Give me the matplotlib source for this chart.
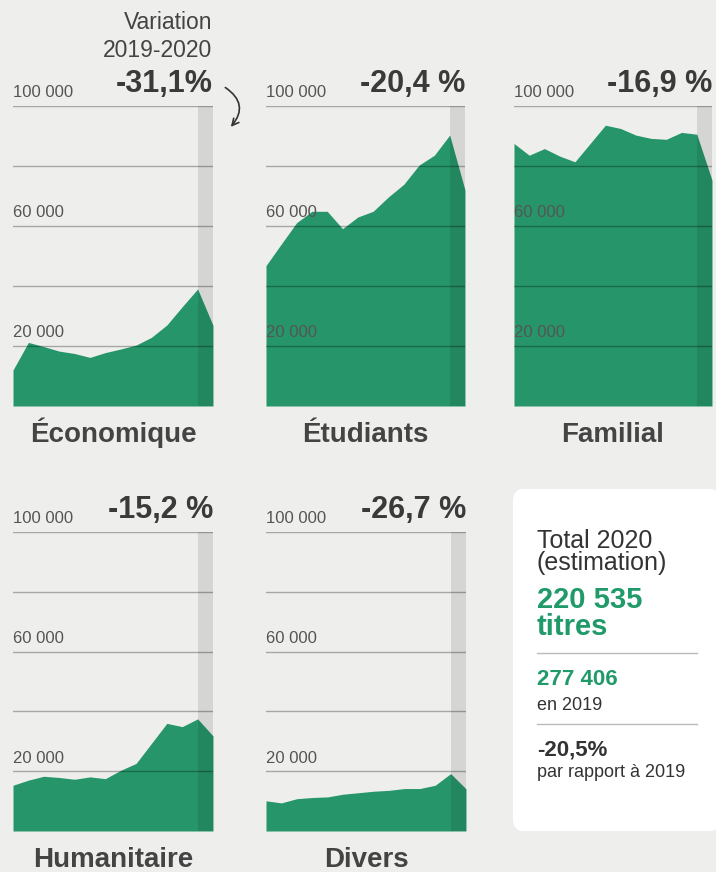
import matplotlib
matplotlib.use("Agg")
import matplotlib.pyplot as plt
from matplotlib.patches import FancyArrowPatch, FancyBboxPatch

# first residence permits by motive, 2007-2020
years = list(range(2007, 2021))
economique = [12000, 21200, 19800, 18300, 17500, 16200, 17800, 19000, 20300, 22900, 27000, 33100, 39000, 26900]
etudiants = [46800, 54000, 61100, 64900, 64900, 59100, 63000, 64900, 69700, 73900, 80300, 83600, 90300, 72000]
familial = [87500, 83600, 85800, 83300, 81400, 87500, 93600, 92500, 90300, 89200, 88900, 91200, 90600, 75300]
humanitaire = [15300, 17000, 18300, 17900, 17300, 18100, 17500, 20300, 22600, 29300, 36000, 34900, 37500, 31800]
divers = [10100, 9400, 10800, 11200, 11400, 12300, 12800, 13300, 13600, 14200, 14200, 15300, 19200, 14100]

names = ["Économique", "Étudiants", "Familial", "Humanitaire", "Divers"]
series = [economique, etudiants, familial, humanitaire, divers]
variations = ["-31,1%", "-20,4 %", "-16,9 %", "-15,2 %", "-26,7 %"]
grid_values = [20000, 40000, 60000, 80000, 100000]
tick_labels = {20000: "20 000", 60000: "60 000", 100000: "100 000"}

W, H = 716, 872
BG = "#eeeeec"
GREEN = "#26966a"
DARK = "#3a3a3a"

plt.rcParams['font.family'] = ['Liberation Sans', 'DejaVu Sans']

fig = plt.figure(figsize=(W / 100, H / 100), dpi=100)
fig.patch.set_facecolor(BG)

def fx(x):
    return x / W

def fy(y):
    return 1 - y / H

# panel boxes in pixels: left, right, top(100000), bottom(0)
boxes = [(13, 213, 106, 406), (266, 465, 106, 406), (514, 712, 106, 406),
         (13, 213, 532, 831), (266, 466, 532, 831)]

for (l, r, t, b), name, vals, var in zip(boxes, names, series, variations):
    ax = fig.add_axes([fx(l), fy(b), (r - l) / W, (b - t) / H])
    ax.set_facecolor(BG)
    ax.patch.set_alpha(0)
    ax.fill_between(years, vals, color=GREEN, lw=0, zorder=2)
    ax.axvspan(2019, 2020, color="black", alpha=0.1, lw=0, zorder=3)
    for g in grid_values:
        ax.axhline(g, color="black", alpha=0.3, lw=1, zorder=4)
    for v, lab in tick_labels.items():
        ax.annotate(lab, (2007, v), xytext=(0, 4), textcoords="offset points",
                    fontsize=12, color="#555555", va="bottom", ha="left", zorder=5)
    ax.set_xlim(2007, 2020)
    ax.set_ylim(0, 100000)
    ax.axis("off")

    fig.text(fx(r), fy(t - 14), var, ha="right", va="baseline", fontsize=22,
             fontweight="bold", color=DARK)
    fig.text(fx((l + r) / 2), fy(b + 36), name, ha="center", va="baseline",
             fontsize=20, fontweight="bold", color="#444444")

# variation header on first panel
fig.text(fx(212), fy(29), "Variation", ha="right", va="baseline", fontsize=16.5, color="#444444")
fig.text(fx(212), fy(57), "2019-2020", ha="right", va="baseline", fontsize=16.5, color="#444444")
arrow = FancyArrowPatch((fx(223), fy(86)), (fx(229), fy(129)), transform=fig.transFigure,
                        connectionstyle="arc3,rad=-0.6", arrowstyle="->", mutation_scale=12,
                        color="#333333", lw=1.2)
fig.add_artist(arrow)

# total box
box = FancyBboxPatch((fx(513), fy(831)), fx(720) - fx(513), fy(489) - fy(831),
                     boxstyle="round,pad=0,rounding_size=0.014", transform=fig.transFigure,
                     facecolor="white", edgecolor="none")
fig.add_artist(box)

x0 = fx(537)
fig.text(x0, fy(548), "Total 2020", fontsize=18, color="#333333", va="baseline")
fig.text(x0, fy(570), "(estimation)", fontsize=18, color="#333333", va="baseline")
fig.text(x0, fy(608), "220 535", fontsize=21, fontweight="bold", color="#1f9a68", va="baseline")
fig.text(x0, fy(635), "titres", fontsize=21, fontweight="bold", color="#1f9a68", va="baseline")
fig.add_artist(plt.Line2D([fx(537), fx(697)], [fy(653), fy(653)], transform=fig.transFigure,
                          color="#bbbbbb", lw=1))
fig.text(x0, fy(685), "277 406", fontsize=16, fontweight="bold", color="#1f9a68", va="baseline")
fig.text(x0, fy(710), "en 2019", fontsize=13, color="#333333", va="baseline")
fig.add_artist(plt.Line2D([fx(537), fx(697)], [fy(724), fy(724)], transform=fig.transFigure,
                          color="#bbbbbb", lw=1))
fig.text(x0, fy(755), "-20,5%", fontsize=16, fontweight="bold", color="#333333", va="baseline")
fig.text(x0, fy(777), "par rapport à 2019", fontsize=13, color="#333333", va="baseline")

fig.savefig("out.png", dpi=100, facecolor=fig.get_facecolor())
